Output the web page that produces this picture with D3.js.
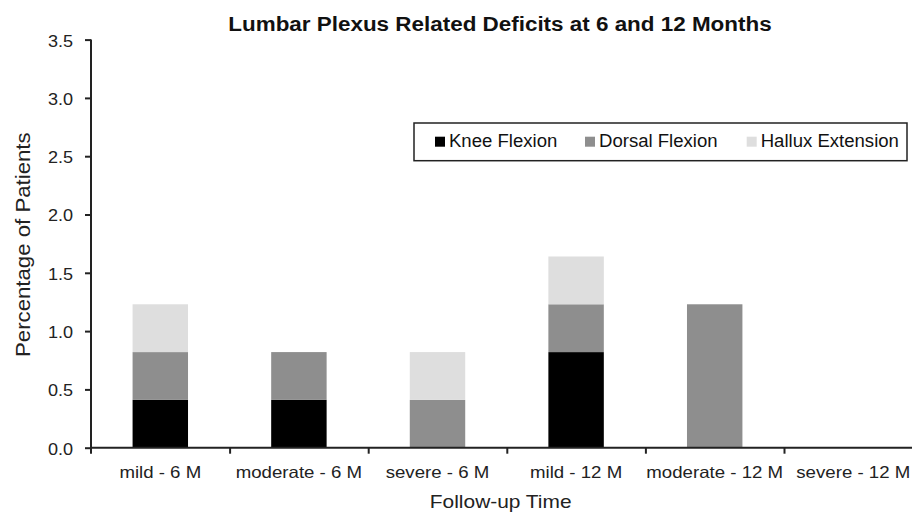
<!DOCTYPE html>
<html>
<head>
<meta charset="utf-8">
<script src="https://cdn.jsdelivr.net/npm/d3@7"></script>
<style>
  html, body { margin: 0; padding: 0; background: #fff; }
  svg { display: block; font-family: "Liberation Sans", Arial, sans-serif; }
</style>
</head>
<body>
<svg id="chart" width="912" height="513"></svg>
<script>
const categories = ["mild - 6 M", "moderate - 6 M", "severe - 6 M", "mild - 12 M", "moderate - 12 M", "severe - 12 M"];
const seriesNames = ["Knee Flexion", "Dorsal Flexion", "Hallux Extension"];
const kneeFlexion    = [0.41, 0.41, 0.00, 0.82, 0.00, 0.00];
const dorsalFlexion  = [0.41, 0.41, 0.41, 0.41, 1.23, 0.00];
const halluxExtension= [0.41, 0.00, 0.41, 0.41, 0.00, 0.00];
const yTicks = [0, 0.5, 1.0, 1.5, 2.0, 2.5, 3.0, 3.5];
const colors = ["#000000", "#8e8e8e", "#dedede"];

const svg = d3.select("#chart");
const axisColor = "#222";

const mLeft = 91, mRight = 922.6, mTop = 39.6, mBottom = 447.7;

const x = d3.scaleBand().domain(categories).range([mLeft, mRight]).paddingInner(0.6).paddingOuter(0.3);
const xEdge = d3.scaleLinear().domain([0, categories.length]).range([mLeft, mRight]);
const y = d3.scaleLinear().domain([0, 3.5]).range([mBottom, mTop]);

function stretch(sel, f) {
  sel.each(function() {
    const len = this.getComputedTextLength();
    this.setAttribute("textLength", (len * f).toFixed(1));
    this.setAttribute("lengthAdjust", "spacingAndGlyphs");
  });
}

// stacked data
const table = categories.map((c, i) => ({
  cat: c,
  "Knee Flexion": kneeFlexion[i],
  "Dorsal Flexion": dorsalFlexion[i],
  "Hallux Extension": halluxExtension[i]
}));
const stack = d3.stack().keys(seriesNames)(table);

svg.append("g").selectAll("g").data(stack).join("g")
  .attr("fill", (d, i) => colors[i])
  .selectAll("rect").data(d => d.filter(s => s[1] - s[0] > 0)).join("rect")
  .attr("x", d => x(d.data.cat))
  .attr("width", x.bandwidth())
  .attr("y", d => y(d[1]))
  .attr("height", d => y(d[0]) - y(d[1]));

// Y axis
const yAxis = svg.append("g").attr("transform", `translate(${mLeft},0)`)
  .call(d3.axisLeft(y).tickValues(yTicks).tickFormat(d3.format(".1f")).tickSize(6).tickPadding(12));
yAxis.select(".domain").attr("d", `M0,${mTop}V${mBottom + 6}`).attr("stroke", axisColor).attr("stroke-width", 2);
yAxis.selectAll(".tick line").attr("stroke", axisColor).attr("stroke-width", 2);
yAxis.selectAll(".tick text").attr("font-size", 17).attr("fill", "#222").attr("font-family", null)
  .attr("dy", "0.38em").call(stretch, 1.06);

// X axis
const xAxis = svg.append("g").attr("transform", `translate(0,${mBottom})`)
  .call(d3.axisBottom(xEdge).tickValues(d3.range(1, categories.length + 1)).tickFormat("").tickSize(6));
xAxis.select(".domain").attr("d", `M${mLeft},0H${mRight}`).attr("stroke", axisColor).attr("stroke-width", 2);
xAxis.selectAll(".tick line").attr("stroke", axisColor).attr("stroke-width", 2);

svg.append("g").selectAll("text").data(categories).join("text")
  .attr("x", d => x(d) + x.bandwidth() / 2)
  .attr("y", 478)
  .attr("text-anchor", "middle")
  .attr("font-size", 16.5)
  .attr("fill", "#222")
  .text(d => d)
  .call(stretch, 1.13);

// Title
svg.append("text").attr("x", 500).attr("y", 31).attr("text-anchor", "middle")
  .attr("font-size", 19.5).attr("font-weight", "bold").attr("fill", "#111")
  .text("Lumbar Plexus Related Deficits at 6 and 12 Months").call(stretch, 1.15);

// Axis titles
svg.append("text").attr("x", 500.7).attr("y", 507.5).attr("text-anchor", "middle")
  .attr("font-size", 18.5).attr("fill", "#222").text("Follow-up Time").call(stretch, 1.13);

svg.append("text").attr("transform", "translate(29.5,244.7) rotate(-90)").attr("text-anchor", "middle")
  .attr("font-size", 20).attr("fill", "#222").text("Percentage of Patients").call(stretch, 1.11);

// Legend
const lg = svg.append("g");
lg.append("rect").attr("x", 414).attr("y", 123).attr("width", 493).attr("height", 37.7)
  .attr("fill", "#fff").attr("stroke", "#222").attr("stroke-width", 1.5);
const legendX = [435, 585, 746.7];
const items = lg.selectAll("g.item").data(seriesNames).join("g").attr("class", "item")
  .attr("transform", (d, i) => `translate(${legendX[i]},0)`);
items.append("rect").attr("x", 0).attr("y", 136.7).attr("width", 10).attr("height", 10)
  .attr("fill", (d, i) => colors[i]);
items.append("text").attr("x", 14).attr("y", 147).attr("font-size", 17.5).attr("fill", "#111")
  .text(d => d).call(stretch, 1.06);
</script>
</body>
</html>
